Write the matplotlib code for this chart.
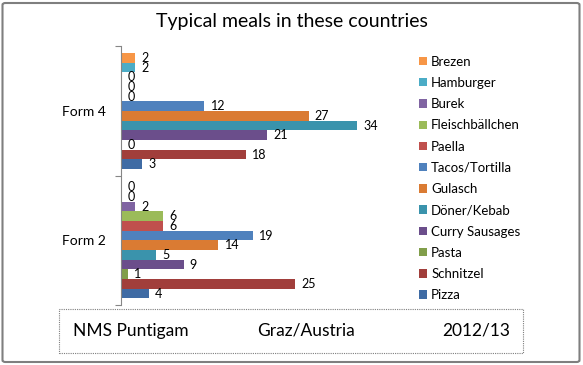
import matplotlib.pyplot as plt
import numpy as np
from matplotlib.patches import Rectangle, FancyBboxPatch

plt.rcParams['font.family'] = ['Lato', 'DejaVu Sans']

forms = ['Form 2', 'Form 4']
# series in plotting order (first series sits at the bottom of each group)
meals = ['Pizza', 'Schnitzel', 'Pasta', 'Curry Sausages', 'Döner/Kebab', 'Gulasch',
         'Tacos/Tortilla', 'Paella', 'Fleischbällchen', 'Burek', 'Hamburger', 'Brezen']
form2 = [4, 25, 1, 9, 5, 14, 19, 6, 6, 2, 0, 0]
form4 = [3, 18, 0, 21, 34, 27, 12, 0, 0, 0, 2, 2]
colors = ['#3F6BA4', '#A13E3B', '#819E4A', '#6B4E8B', '#3A93AC', '#DA7B33',
          '#4F81BD', '#C0504D', '#9BBB59', '#8064A2', '#4BACC6', '#F79646']

fig = plt.figure(figsize=(5.83, 3.65), dpi=100)
ax = fig.add_axes([0.2075, 0.1644, 0.4769, 0.7085])

n = len(meals)
group_w = 0.897
bar_h = group_w / n
y = np.arange(len(forms))
handles = []
for i, meal in enumerate(meals):
    vals = [form2[i], form4[i]]
    pos = y - group_w / 2 + bar_h * (i + 0.5)
    b = ax.barh(pos, vals, height=bar_h, color=colors[i], label=meal)
    handles.append(b)
    for p, v in zip(pos, vals):
        ax.text(v + 0.9, p, str(v), va='center', ha='left', fontsize=9, color='black')

ax.set_xlim(0, 40)
ax.set_ylim(-0.5, 1.5)
for s in ['top', 'right', 'bottom']:
    ax.spines[s].set_visible(False)
ax.spines['left'].set_color('#868686')
ax.set_xticks([])
ax.set_yticks([-0.5, 0.5, 1.5])
ax.set_yticklabels([])
ax.tick_params(axis='y', which='major', length=4, color='#868686')
ax.set_yticks(y, minor=True)
ax.set_yticklabels(forms, minor=True, fontsize=10)
ax.tick_params(axis='y', which='minor', length=0, pad=11)

fig.legend(handles[::-1], meals[::-1], loc='upper left', bbox_to_anchor=(0.709, 0.862),
           frameon=False, fontsize=9.5, handlelength=0.6, handleheight=0.6,
           handletextpad=0.35, labelspacing=0.7, borderaxespad=0)

fig.text(0.50, 0.942, 'Typical meals in these countries', ha='center', va='center', fontsize=14)

# footer box
fig.patches.append(Rectangle((59 / 583, 1 - 353 / 365), (523 - 59) / 583, (353 - 309) / 365,
                             transform=fig.transFigure, fill=False, edgecolor='#7f7f7f',
                             linestyle=(0, (1, 1)), linewidth=0.8))
fy = 1 - 331 / 365
fig.text(73 / 583, fy, 'NMS Puntigam', ha='left', va='center', fontsize=12.5)
fig.text(306 / 583, fy, 'Graz/Austria', ha='center', va='center', fontsize=12.5)
fig.text(510 / 583, fy, '2012/13', ha='right', va='center', fontsize=12.5)

# outer border
fig.patches.append(FancyBboxPatch((2.5 / 583, 3 / 365), 577 / 583, 359 / 365,
                                  boxstyle='round,pad=0,rounding_size=0.005',
                                  transform=fig.transFigure, fill=False,
                                  edgecolor='#7f7f7f', linewidth=1.5))

fig.savefig('out.png', dpi=100)
